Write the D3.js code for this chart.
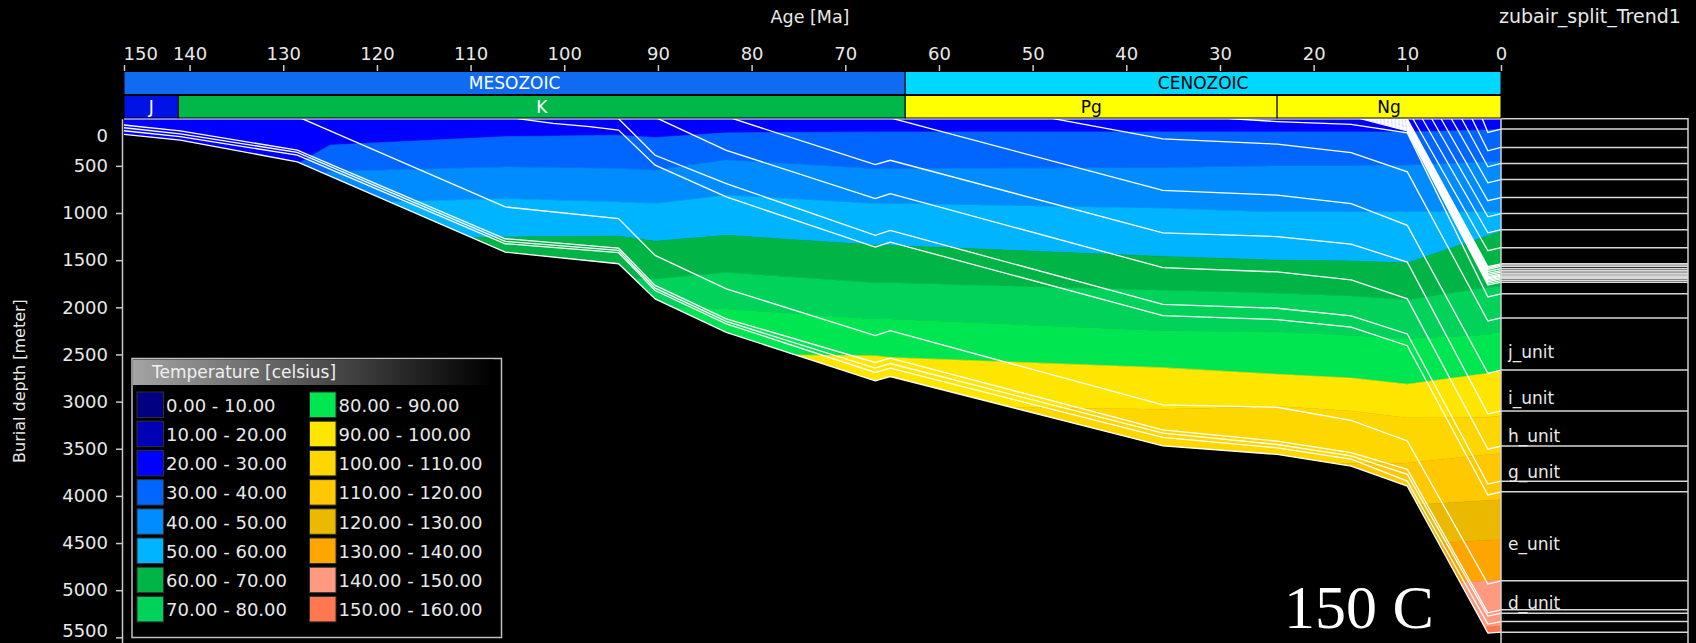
<!DOCTYPE html>
<html>
<head>
<meta charset="utf-8">
<script src="https://cdn.jsdelivr.net/npm/d3@7"></script>
<style>
  body { margin: 0; background: #000; }
  svg text { font-family: "DejaVu Sans", sans-serif; fill: #e8e8e8; }
</style>
</head>
<body>
<div id="chart"></div>
<script>
// ---------- data ----------
const ageTicks = [147, 140, 130, 120, 110, 100, 90, 80, 70, 60, 50, 40, 30, 20, 10, 0];
const ageTickLabels = ["150", "140", "130", "120", "110", "100", "90", "80", "70", "60", "50", "40", "30", "20", "10", "0"];
const depthTicks = [0, 500, 1000, 1500, 2000, 2500, 3000, 3500, 4000, 4500, 5000, 5500];

const eraNames = ["MESOZOIC", "CENOZOIC"];
const eraBounds = [147, 63.6, 0];
const periodNames = ["J", "K", "Pg", "Ng"];
const periodBounds = [147, 141.2, 63.6, 23.9, 0];

// burial path of each horizon: [age Ma, depth m]
const hBasement = [[147,166],[141,227],[128.5,457],[106.3,1415],[94.2,1538],[90.3,1911],[82.7,2266],[66.8,2780],[65.2,2734],[36.1,3470],[23.9,3560],[16,3684],[10,3896],[1.4,5455],[0,5445]];
const hT1 = [[147,128],[141,190],[128.5,386],[106.3,1326],[94.2,1421],[90.3,1822],[82.7,2176],[66.8,2691],[65.2,2645],[36.1,3380],[23.9,3490],[16,3610],[10,3843],[1.4,5360],[0,5333]];
const hT2 = [[147,96],[141,160],[128.5,357],[106.3,1301],[94.2,1397],[90.3,1797],[82.7,2150],[66.8,2645],[65.2,2596],[36.1,3335],[23.9,3455],[16,3575],[10,3772],[1.4,5275],[0,5245]];
const hT3 = [[147,67],[141,130],[128.5,333],[106.3,1273],[94.2,1372],[90.3,1768],[82.7,2122],[66.8,2585],[65.2,2539],[36.1,3300],[23.9,3420],[16,3540],[10,3719],[1.4,5240],[0,5208]];
const hD = [[128,0],[106.3,936],[94.2,1060],[90.3,1450],[82.7,1804],[66.8,2301],[65.2,2248],[36.1,3035],[23.9,3060],[16,3200],[10,3418],[1.4,4935],[0,4900]];
const hE = [[105,0],[101.2,49],[97.3,85],[94.2,121],[90.3,493],[82.7,830],[66.8,1362],[65.2,1309],[36.1,2088],[23.9,2130],[16,2210],[10,2407],[1.4,3990],[0,3957]];
const hF = [[94.2,0],[90.3,388],[82.7,688],[66.8,1237],[65.2,1184],[36.1,1970],[23.9,2010],[16,2090],[10,2283],[1.4,3875],[0,3844]];
const hG = [[90,0],[82.7,335],[66.8,848],[65.2,794],[36.1,1580],[23.9,1625],[16,1710],[10,1911],[1.4,3505],[0,3471]];
const hH = [[82,0],[66.8,486],[65.2,441],[36.1,1210],[23.9,1250],[16,1330],[10,1521],[1.4,3130],[0,3099]];
const hI = [[64.9,0],[36.1,760],[23.9,810],[16,900],[10,1131],[1.4,2700],[0,2666]];
const hJ = [[47.8,0],[36.1,215],[23.9,270],[16,360],[10,564],[1.4,2145],[0,2113]];
const hK = [[29,0],[23.9,30],[16,60],[10,150],[1.4,1890],[0,1857]];
// thin Neogene beds laid down 15-10 Ma
const hN1  = [[10.3,0],[10,5],[1.4,1570],[0,1539]];
const hN2  = [[10.6,0],[10,18],[1.4,1583],[0,1552]];
const hN3  = [[11.0,0],[10,30],[1.4,1598],[0,1567]];
const hN4  = [[11.4,0],[10,40],[1.4,1620],[0,1590]];
const hN5  = [[11.8,0],[10,50],[1.4,1640],[0,1610]];
const hN6  = [[12.2,0],[10,60],[1.4,1657],[0,1627]];
const hN7  = [[12.6,0],[10,70],[1.4,1675],[0,1645]];
const hN8  = [[13.0,0],[10,80],[1.4,1688],[0,1658]];
const hN9  = [[13.4,0],[10,90],[1.4,1700],[0,1670]];
const hN10 = [[13.8,0],[10,100],[1.4,1714],[0,1684]];
const hN11 = [[14.2,0],[10,110],[1.4,1728],[0,1698]];
const hN12 = [[14.6,0],[10,120],[1.4,1746],[0,1716]];
const hN13 = [[15.0,0],[10,130],[1.4,1764],[0,1734]];
// youngest beds, 9.4-2 Ma
const hY1 = [[9.4,0],[1.4,1400],[0,1368]];
const hY2 = [[8.4,0],[1.4,1210],[0,1177]];
const hY3 = [[7.4,0],[1.4,1040],[0,1006]];
const hY4 = [[6.4,0],[1.4,870],[0,836]];
const hY5 = [[5.3,0],[1.4,680],[0,645]];
const hY6 = [[4.2,0],[1.4,510],[0,475]];
const hY7 = [[3.1,0],[1.4,340],[0,305]];
const hY8 = [[2.0,0],[1.4,145],[0,110]];

const horizons = [hBasement, hT1, hT2, hT3, hD, hE, hF, hG, hH, hI, hJ, hK,
  hN1, hN2, hN3, hN4, hN5, hN6, hN7, hN8, hN9, hN10, hN11, hN12, hN13,
  hY1, hY2, hY3, hY4, hY5, hY6, hY7, hY8];

// named units: label, top horizon, base horizon
const unitNames = ["j_unit", "i_unit", "h_unit", "g_unit", "e_unit", "d_unit"];
const unitTops = [hJ, hI, hH, hG, hE, hD];
const unitBases = [hI, hH, hG, hF, hD, hT3];

// isotherm depths (m) through time
const isoAges = [147, 128.5, 125, 106.3, 94.2, 90.3, 82.7, 66.8, 65.2, 36.1, 23.9, 16, 10, 1.4, 0];
const iso30  = [500, 480, 280, 190, 175, 200, 150, 140, 140, 140, 140, 140, 140, 120, 110];
const iso40  = [700, 650, 560, 511, 528, 547, 439, 530, 530, 520, 500, 500, 494, 460, 450];
const iso50  = [1000, 950, 900, 848, 883, 900, 812, 900, 900, 950, 990, 990, 989, 990, 990];
const iso60  = [1400, 1350, 1300, 1255, 1245, 1300, 1237, 1340, 1344, 1460, 1500, 1510, 1530, 1240, 1200];
const iso70  = [1800, 1750, 1720, 1700, 1700, 1700, 1630, 1740, 1740, 1820, 1850, 1880, 1920, 1790, 1780];
const iso80  = [2200, 2150, 2100, 2050, 2000, 2000, 2017, 2123, 2123, 2250, 2260, 2300, 2330, 2290, 2260];
const iso90  = [2700, 2650, 2600, 2560, 2540, 2520, 2500, 2514, 2532, 2640, 2710, 2750, 2815, 2700, 2673];
const iso100 = [3200, 3150, 3100, 3050, 3050, 3050, 3050, 3050, 3050, 3080, 3050, 3100, 3170, 3165, 3150];
const iso110 = [3700, 3700, 3700, 3700, 3700, 3700, 3700, 3700, 3700, 3700, 3650, 3660, 3650, 3560, 3550];
const iso120 = [4200, 4200, 4200, 4200, 4200, 4200, 4200, 4200, 4200, 4200, 4200, 4150, 4100, 4050, 4040];
const iso130 = [4650, 4650, 4650, 4650, 4650, 4650, 4650, 4650, 4650, 4600, 4600, 4550, 4520, 4470, 4464];
const iso140 = [5100, 5100, 5100, 5100, 5100, 5100, 5100, 5100, 5100, 5000, 5000, 4980, 4950, 4900, 4890];
const iso150 = [5550, 5550, 5550, 5550, 5550, 5550, 5550, 5550, 5550, 5450, 5450, 5420, 5400, 5390, 5386];
const isoLines = [iso30, iso40, iso50, iso60, iso70, iso80, iso90, iso100, iso110, iso120, iso130, iso140, iso150];

const tempClasses = ["0.00 - 10.00", "10.00 - 20.00", "20.00 - 30.00", "30.00 - 40.00",
  "40.00 - 50.00", "50.00 - 60.00", "60.00 - 70.00", "70.00 - 80.00",
  "80.00 - 90.00", "90.00 - 100.00", "100.00 - 110.00", "110.00 - 120.00",
  "120.00 - 130.00", "130.00 - 140.00", "140.00 - 150.00", "150.00 - 160.00"];
const modelName = "zubair_split_Trend1";
const annotation = "150 C";

// ---------- styles ----------
const tempColors = ["#000080", "#0000b4", "#0000ff", "#0066ff", "#008cff", "#00b4ff",
  "#00b446", "#00d25a", "#00e650", "#ffe600", "#ffd700", "#ffc800",
  "#ebb900", "#ffa500", "#ff9980", "#ff7850"];
const eraColors = ["#116bf0", "#00d8ff"];
const eraText = ["#ffffff", "#000000"];
const periodColors = ["#0012e6", "#00b84a", "#ffff00", "#ffff00"];
const periodText = ["#ffffff", "#ffffff", "#000000", "#000000"];

// ---------- layout ----------
const W = 1696, H = 643;
const maxDepth = 5560;

const svg = d3.select("#chart").append("svg")
    .attr("width", W)
    .attr("height", H);

svg.append("rect").attr("width", W).attr("height", H).attr("fill", "#000");

const x = d3.scaleLinear().domain([147, 0]).range([124, 1501]);
const y = d3.scaleLinear().domain([0, maxDepth]).range([118.7, 643]);

// sediment body, used to clip the temperature field
const sediment = d3.area()
    .x(d => x(d[0]))
    .y0(y(0))
    .y1(d => y(d[1]));

svg.append("clipPath").attr("id", "sed")
    .append("path").attr("d", sediment(hBasement));

// temperature bands between isotherms
const bandG = svg.append("g").attr("clip-path", "url(#sed)");
for (let i = 0; i <= isoLines.length; i++) {
    const top = i === 0 ? null : isoLines[i - 1];
    const bot = i === isoLines.length ? null : isoLines[i];
    const band = d3.area()
        .x((d, j) => x(isoAges[j]))
        .y0((d, j) => y(top ? top[j] : 0))
        .y1((d, j) => y(bot ? bot[j] : maxDepth));
    bandG.append("path")
        .attr("d", band(isoAges))
        .attr("fill", tempColors[i + 2])
        .attr("stroke", tempColors[i + 2])
        .attr("stroke-width", 0.6);
}

// horizon burial curves
const line = d3.line().x(d => x(d[0])).y(d => y(d[1]));
svg.append("g")
    .selectAll("path")
    .data(horizons)
    .join("path")
    .attr("d", line)
    .attr("fill", "none")
    .attr("stroke", "#ffffff")
    .attr("stroke-width", 1.3);

// surface line
svg.append("line")
    .attr("x1", x(147)).attr("x2", x(0))
    .attr("y1", y(0)).attr("y2", y(0))
    .attr("stroke", "#ffffff").attr("stroke-width", 1.5);

// present-day stratigraphic column on the right
const colX0 = x(0), colX1 = 1688;
const col = svg.append("g");
col.append("rect")
    .attr("x", colX0).attr("y", y(0))
    .attr("width", colX1 - colX0).attr("height", H - y(0) + 4)
    .attr("fill", "none").attr("stroke", "#d0d0d0").attr("stroke-width", 1.5);
col.selectAll("line.hz")
    .data(horizons)
    .join("line")
    .attr("class", "hz")
    .attr("x1", colX0).attr("x2", colX1)
    .attr("y1", d => y(d[d.length - 1][1]))
    .attr("y2", d => y(d[d.length - 1][1]))
    .attr("stroke", "#d8d8d8").attr("stroke-width", 1.5);
col.selectAll("text")
    .data(unitNames)
    .join("text")
    .attr("x", colX0 + 7)
    .attr("y", (d, i) => (y(unitTops[i][unitTops[i].length - 1][1]) + y(unitBases[i][unitBases[i].length - 1][1])) / 2 + 8)
    .attr("dy", "0.35em")
    .style("font-size", "17px")
    .text(d => d);

// age axis (top)
const ageAxis = d3.axisTop(x)
    .tickValues(ageTicks)
    .tickFormat((d, i) => ageTickLabels[i])
    .tickSize(6)
    .tickSizeOuter(0)
    .tickPadding(5);
const gx = svg.append("g").attr("transform", "translate(0,71)").call(ageAxis);
gx.select(".domain").remove();
gx.selectAll(".tick line").attr("stroke", "#c8c8c8").attr("stroke-width", 1.5);
gx.selectAll(".tick text").style("font-size", "18px").attr("fill", "#e8e8e8");
gx.selectAll(".tick text").filter((d, i) => i === 0).attr("text-anchor", "start").attr("dx", -1);

svg.append("text")
    .attr("x", 810).attr("y", 23)
    .attr("text-anchor", "middle")
    .style("font-size", "17.5px")
    .text("Age [Ma]");

svg.append("text")
    .attr("x", 1499).attr("y", 23)
    .style("font-size", "19px")
    .text(modelName);

// depth axis (left)
const depthAxis = d3.axisLeft(y)
    .tickValues(depthTicks.slice(1))
    .tickFormat(d3.format("d"))
    .tickSize(6)
    .tickSizeOuter(0)
    .tickPadding(8);
const gy = svg.append("g").attr("transform", "translate(122,0)").call(depthAxis);
gy.select(".domain").attr("stroke", "#c8c8c8").attr("stroke-width", 1.5);
gy.selectAll(".tick line").attr("stroke", "#c8c8c8").attr("stroke-width", 1.5);
gy.selectAll(".tick text").style("font-size", "18px").attr("fill", "#e8e8e8");
gy.selectAll(".tick text").filter(d => d === 5500).attr("dy", "-0.05em");
gy.append("text")
    .attr("x", -14).attr("y", 136)
    .attr("dy", "0.35em")
    .attr("text-anchor", "end")
    .style("font-size", "18px")
    .text(depthTicks[0]);

svg.append("text")
    .attr("transform", "translate(25,381) rotate(-90)")
    .attr("text-anchor", "middle")
    .style("font-size", "16px")
    .text("Burial depth [meter]");

// era and period bars
const bars = svg.append("g");
eraNames.forEach((name, i) => {
    const x0 = x(eraBounds[i]), x1 = x(eraBounds[i + 1]);
    bars.append("rect")
        .attr("x", x0).attr("y", 71.5).attr("width", x1 - x0).attr("height", 23)
        .attr("fill", eraColors[i]).attr("stroke", "#000").attr("stroke-width", 1);
    bars.append("text")
        .attr("x", (x0 + x1) / 2).attr("y", 83).attr("dy", "0.35em")
        .attr("text-anchor", "middle").style("font-size", "17px")
        .style("fill", eraText[i])
        .text(name);
});
periodNames.forEach((name, i) => {
    const x0 = x(periodBounds[i]), x1 = x(periodBounds[i + 1]);
    bars.append("rect")
        .attr("x", x0).attr("y", 95.5).attr("width", x1 - x0).attr("height", 22.5)
        .attr("fill", periodColors[i]).attr("stroke", "#000").attr("stroke-width", 1);
    bars.append("text")
        .attr("x", (x0 + x1) / 2).attr("y", 107).attr("dy", "0.35em")
        .attr("text-anchor", "middle").style("font-size", "17px")
        .style("fill", periodText[i])
        .text(name);
});

// legend
const lg = svg.append("g").attr("transform", "translate(132,358.5)");
const grad = svg.append("defs").append("linearGradient").attr("id", "lgTitle");
grad.append("stop").attr("offset", "0%").attr("stop-color", "#a4a4a4");
grad.append("stop").attr("offset", "100%").attr("stop-color", "#000000");
lg.append("rect").attr("width", 369.5).attr("height", 279).attr("fill", "#000")
    .attr("stroke", "#c0c0c0").attr("stroke-width", 1.5);
lg.append("rect").attr("x", 1).attr("y", 1).attr("width", 360).attr("height", 25.5)
    .attr("fill", "url(#lgTitle)");
lg.append("text").attr("x", 20).attr("y", 14).attr("dy", "0.35em")
    .style("font-size", "17px").style("fill", "#f0f0f0")
    .text("Temperature [celsius]");
const item = lg.selectAll("g.item")
    .data(tempClasses)
    .join("g")
    .attr("class", "item")
    .attr("transform", (d, i) => `translate(${i < 8 ? 5 : 177.5},${33.5 + (i % 8) * 29.2})`);
item.append("rect")
    .attr("width", 26.5).attr("height", 25.5)
    .attr("fill", (d, i) => tempColors[i])
    .attr("stroke", "#303030").attr("stroke-width", 1);
item.append("text")
    .attr("x", 29).attr("y", 13.5).attr("dy", "0.35em")
    .style("font-size", "18px")
    .text(d => d);

// annotation
svg.append("text")
    .attr("x", 1284).attr("y", 628)
    .style("font-family", "'Liberation Serif', 'DejaVu Serif', serif")
    .style("font-size", "62px")
    .style("fill", "#ffffff")
    .text(annotation);
</script>
</body>
</html>
